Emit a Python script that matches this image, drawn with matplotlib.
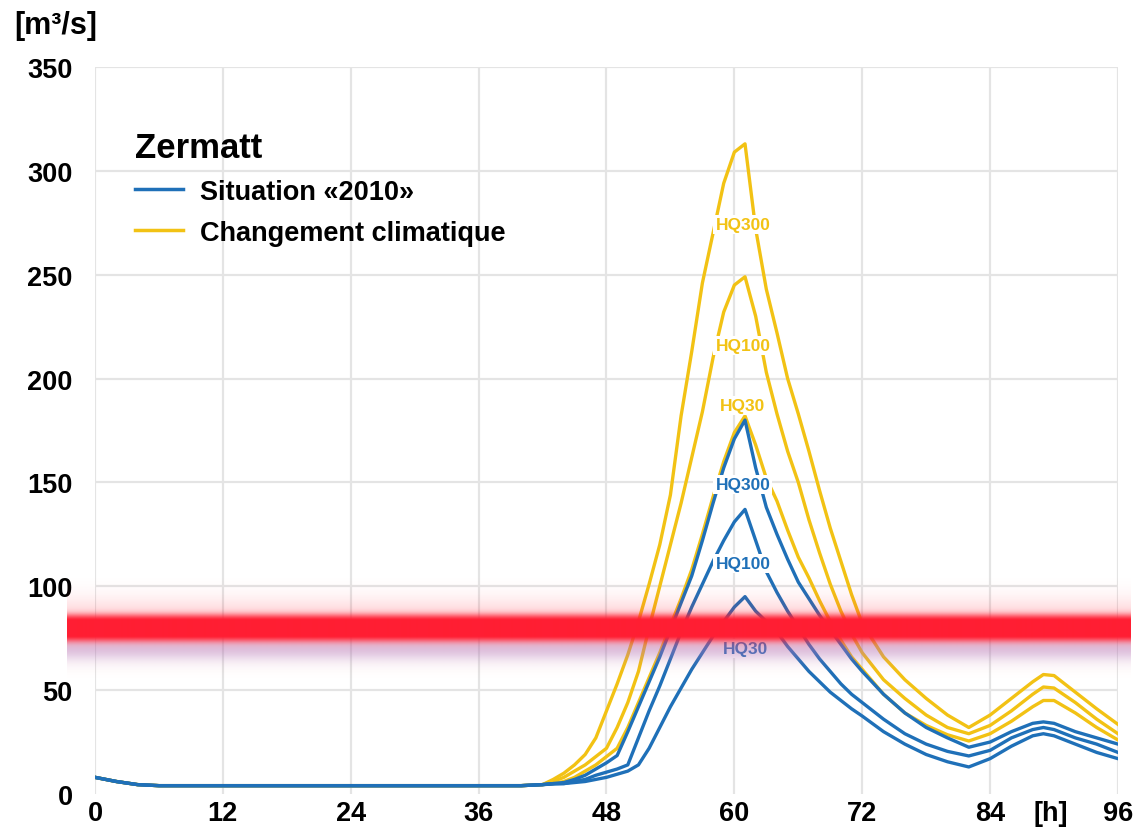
import numpy as np
import matplotlib
matplotlib.use("Agg")
import matplotlib.pyplot as plt
import matplotlib.transforms as mtransforms
from matplotlib.lines import Line2D

plt.rcParams['font.family'] = ['Liberation Sans', 'DejaVu Sans']
plt.rcParams['font.weight'] = 'bold'

BLUE = "#1f70b8"
YELLOW = "#f2c214"

# hours since start of the event
hours = [0, 2, 4, 6, 40, 42,
         43, 44, 45, 46, 47, 48, 49, 50, 51, 52,
         53, 54, 55, 56, 57, 58, 59, 60, 61, 62,
         63, 64, 65, 66, 67, 68, 69, 70, 71, 72,
         74, 76, 78, 80, 82, 84, 86, 88, 89, 90, 92, 94, 96]

base = [8, 6, 4.5, 4, 4, 4.5]

# discharge [m3/s], climate change scenario
cc_hq300 = base + [7, 10, 14, 19, 27, 40, 53, 67, 83, 101,
                   120, 144, 182, 213, 246, 270, 294, 309, 313, 272,
                   243, 222, 200, 183, 165, 146, 128, 112, 96, 82,
                   66, 55, 46, 38, 32, 38, 46, 54, 57.5, 57, 49, 41, 33.5]
cc_hq100 = base + [6, 8, 11, 14, 18, 22, 32, 44, 59, 80,
                   100, 120, 140, 162, 184, 210, 232, 245, 249, 230,
                   203, 183, 165, 150, 132, 116, 101, 88, 77, 68,
                   55, 46, 38, 32, 29, 33, 40, 48, 51.5, 51, 44, 36, 29]
cc_hq30 = base + [5, 6, 8, 11, 14, 18, 22, 32, 44, 56,
                  68, 81, 94, 108, 125, 143, 160, 174, 182, 168,
                  152, 141, 127, 114, 104, 93, 83, 74, 66, 60,
                  48, 39, 33, 28.5, 25.5, 29, 35, 42, 45, 45, 39, 32, 26]

# discharge [m3/s], situation 2010
s_hq300 = base + [5, 5.5, 7, 9, 12, 15, 18.5, 30, 42, 54,
                  66, 79, 92, 105, 122, 140, 157, 171, 180, 157,
                  138, 125, 113, 102, 94, 86, 79, 72, 65, 59,
                  48, 39, 32, 27, 22.5, 25, 30, 34, 34.7, 34, 30, 27, 24]
s_hq100 = base + [5, 5, 6, 7, 9, 10.5, 12, 14, 27, 40,
                  52, 65, 78, 90, 101, 112, 122, 131, 137, 122,
                  107, 97, 88, 80, 72, 65, 59, 53, 48, 44,
                  36, 29, 24, 20.5, 18.3, 21, 27, 31, 32, 31, 27, 24, 20]
s_hq30 = base + [4.8, 5, 5.5, 6, 7, 8, 9.5, 11, 14, 22,
                 32, 42, 51, 60, 68, 76, 83, 90, 95, 88,
                 83, 78, 71, 65, 59, 54, 49, 45, 41, 37.5,
                 30, 24, 19, 15.5, 13, 17, 23, 28, 29, 28, 24, 20, 17]

# label positions (hour, value)
cc_labels = [("HQ300", 60.8, 274), ("HQ100", 60.8, 216), ("HQ30", 60.8, 187)]
s_labels = [("HQ300", 60.8, 149), ("HQ100", 60.8, 111), ("HQ30", 61.0, 70)]

THRESHOLD = 80

x_ticks = list(range(0, 97, 12))
y_ticks = list(range(0, 351, 50))

fig = plt.figure(figsize=(11.35, 8.28), dpi=100)
ax = fig.add_axes([0.0837, 0.0399, 0.9013, 0.878])

for s in ax.spines.values():
    s.set_visible(False)

for xt in x_ticks:
    ax.axvline(xt, color="#e4e4e4", lw=1.6, zorder=0)
for yt in y_ticks[1:]:
    ax.axhline(yt, color="#e4e4e4", lw=1.6, zorder=0)

for ser in [cc_hq300, cc_hq100, cc_hq30]:
    ax.plot(hours, ser, color=YELLOW, lw=2.4, zorder=3)
for ser in [s_hq300, s_hq100, s_hq30]:
    ax.plot(hours, ser, color=BLUE, lw=2.4, zorder=3.5)

for txt, hx, vy in cc_labels:
    ax.text(hx, vy, txt, color=YELLOW, fontsize=12.5, ha='center', va='center',
            zorder=4, bbox=dict(facecolor='white', edgecolor='none', pad=1.5))
for txt, hx, vy in s_labels:
    ax.text(hx, vy, txt, color=BLUE, fontsize=12.5, ha='center', va='center',
            zorder=4, bbox=dict(facecolor='white', edgecolor='none', pad=1.5))

# glowing threshold band
v = np.linspace(THRESHOLD - 24, THRESHOLD + 24, 400)
d = v - THRESHOLD
red_a = 0.88 * np.exp(-(d / 6.5) ** 4) + 0.28 * np.exp(-(d / 12.0) ** 2)
red_a = np.clip(red_a, 0, 1)
img = np.zeros((len(v), 2, 4))
img[..., 0] = 1.0
img[..., 1] = 0.12
img[..., 2] = 0.2
img[..., 3] = red_a[:, None]
lav_a = 0.35 * np.exp(-((v - (THRESHOLD - 10)) / 5.5) ** 2)
lav = np.zeros((len(v), 2, 4))
lav[..., 0] = 0.6
lav[..., 1] = 0.55
lav[..., 2] = 0.88
lav[..., 3] = lav_a[:, None]
ext = [-2.6, 97.2, v[0], v[-1]]
ax.imshow(lav, extent=ext, origin='lower', aspect='auto', zorder=4.9,
          interpolation='bilinear', clip_on=False)
ax.imshow(img, extent=ext, origin='lower', aspect='auto', zorder=5,
          interpolation='bilinear', clip_on=False)

ax.set_xlim(0, 96)
ax.set_ylim(0, 350)
ax.set_aspect('auto')
ax.set_xticks(x_ticks)
ax.set_yticks(y_ticks)
ax.tick_params(length=0, labelsize=19.5)
ax.tick_params(axis='y', pad=16)
ax.tick_params(axis='x', pad=4)

trans = mtransforms.blended_transform_factory(ax.transData, ax.transAxes)
ax.annotate("[h]", xy=(89.7, 0), xycoords=trans, xytext=(0, -4),
            textcoords='offset points', ha='center', va='top', fontsize=19.5)

fig.text(56 / 1135, 1 - 26 / 828, "[m³/s]", ha='center', va='center', fontsize=22)

handles = [Line2D([], [], color=BLUE, lw=2.5), Line2D([], [], color=YELLOW, lw=2.5)]
leg = ax.legend(handles, ["Situation «2010»", "Changement climatique"],
                title="Zermatt", loc='upper left', bbox_to_anchor=(0.0395, 0.912),
                frameon=False, fontsize=19.5, alignment='left',
                title_fontproperties={'weight': 'bold', 'size': 25},
                handlelength=1.75, handletextpad=0.65, borderpad=0,
                borderaxespad=0, labelspacing=0.55)

fig.savefig("out.png", dpi=100)
